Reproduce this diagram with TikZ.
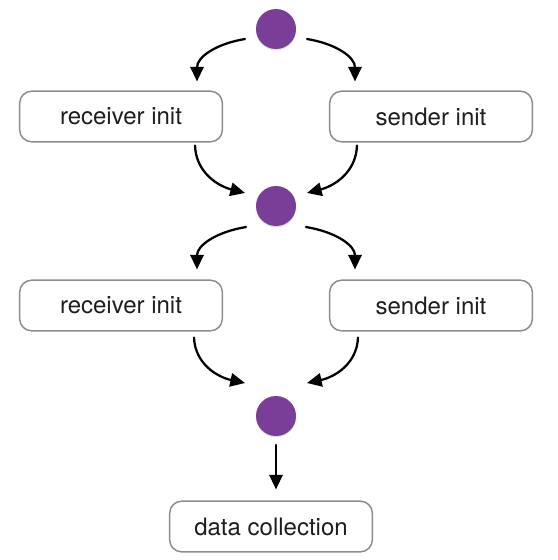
\documentclass[tikz,border=0pt]{standalone}
\usepackage{fontspec}
\setmainfont{TeX Gyre Heros}
\usetikzlibrary{arrows.meta,calc,shadows}
\definecolor{dotpurple}{RGB}{122,62,152}
\definecolor{boxgray}{RGB}{140,140,146}
\definecolor{txt}{RGB}{30,30,30}
\begin{document}
\begin{tikzpicture}[x=0.75pt,y=-0.75pt,
  box/.style={draw=boxgray,line width=1.1pt,rounded corners=9pt,minimum width=152pt,minimum height=38pt,fill=white,text=txt,font=\fontsize{18}{20}\selectfont,inner sep=0pt},
  dot/.style={circle,fill=dotpurple,minimum size=30pt,inner sep=0pt,drop shadow={shadow xshift=0pt,shadow yshift=-1pt,opacity=0.25}},
  arr/.style={line width=1.7pt,line cap=round,-{Triangle[length=11pt,width=10pt]}}]
\useasboundingbox (0,0) rectangle (557,560);
% nodes
\node[dot] (c1) at (276,29) {};
\node[box] (r1) at (121,116.5) {receiver init};
\node[box] (s1) at (431,116.5) {sender init};
\node[dot] (c2) at (276,206) {};
\node[box] (r2) at (121,305.5) {receiver init};
\node[box] (s2) at (431,305.5) {sender init};
\node[dot] (c3) at (276,416) {};
\node[box] (d) at (271,526.5) {data collection};
% connector end points
\coordinate (a1s) at ($(c1)+(-31,10)$);  \coordinate (a1e) at ($(r1.north)+(76,-9)$);
\coordinate (a2s) at ($(c1)+(31,10)$);   \coordinate (a2e) at ($(s1.north)+(-76,-9)$);
\coordinate (b1s) at ($(r1.south)+(74,3)$); \coordinate (b1e) at ($(c2)+(-31,-13)$);
\coordinate (b2s) at ($(s1.south)+(-74,3)$); \coordinate (b2e) at ($(c2)+(31,-13)$);
\coordinate (a3s) at ($(c2)+(-30,21)$);  \coordinate (a3e) at ($(r2.north)+(76,-10)$);
\coordinate (a4s) at ($(c2)+(30,21)$);   \coordinate (a4e) at ($(s2.north)+(-76,-10)$);
\coordinate (b3s) at ($(r2.south)+(73,6)$); \coordinate (b3e) at ($(c3)+(-31,-33)$);
\coordinate (b4s) at ($(s2.south)+(-73,6)$); \coordinate (b4e) at ($(c3)+(31,-33)$);
\coordinate (ds) at ($(c3)+(0,29)$);     \coordinate (de) at ($(d.north)+(5,-11)$);
% connectors
\draw[arr] (a1s) .. controls ($(a1s)+(-30,5)$) and ($(a1e)+(0,-24)$) .. (a1e);
\draw[arr] (a2s) .. controls ($(a2s)+(30,5)$) and ($(a2e)+(0,-24)$) .. (a2e);
\draw[arr] (b1s) .. controls ($(b1s)+(1,27)$) and ($(b1e)+(-27,-7)$) .. (b1e);
\draw[arr] (b2s) .. controls ($(b2s)+(-1,27)$) and ($(b2e)+(27,-7)$) .. (b2e);
\draw[arr] (a3s) .. controls ($(a3s)+(-30,5)$) and ($(a3e)+(0,-24)$) .. (a3e);
\draw[arr] (a4s) .. controls ($(a4s)+(30,5)$) and ($(a4e)+(0,-24)$) .. (a4e);
\draw[arr] (b3s) .. controls ($(b3s)+(1,26)$) and ($(b3e)+(-28,-6)$) .. (b3e);
\draw[arr] (b4s) .. controls ($(b4s)+(-1,26)$) and ($(b4e)+(28,-6)$) .. (b4e);
\draw[arr] (ds) -- (de);
\end{tikzpicture}
\end{document}
